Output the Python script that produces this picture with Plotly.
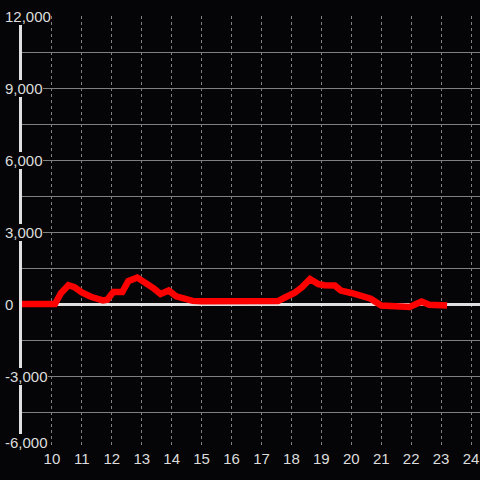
import plotly.graph_objects as go

# Data (hour of day vs value)
hours = [8.85, 10.1, 10.3, 10.55, 10.75, 11.0, 11.3, 11.7, 11.85, 12.05, 12.35, 12.55,
         12.85, 13.05, 13.4, 13.63, 13.9, 14.15, 14.45, 14.7, 15.0, 16.0, 17.0, 17.55,
         17.8, 18.1, 18.35, 18.62, 18.9, 19.1, 19.45, 19.65, 20.0, 20.4, 20.65, 21.0,
         21.5, 21.95, 22.35, 22.6, 23.2]
values = [0, 0, 450, 780, 700, 480, 300, 150, 180, 500, 500, 950,
          1100, 950, 650, 420, 560, 320, 230, 130, 110, 110, 110, 120,
          280, 460, 700, 1040, 830, 780, 770, 560, 460, 350, 220, -60,
          -120, -120, 100, -30, -60]

x_ticks = list(range(10, 25))
x_tick_text = [str(v) for v in x_ticks]
y_grid = [-6000, -4500, -3000, -1500, 0, 1500, 3000, 4500, 6000, 7500, 9000, 10500, 12000]
y_label_vals = [12000, 9000, 6000, 3000, 0, -3000, -6000]
y_label_text = ["12,000", "9,000", "6,000", "3,000", "0", "-3,000", "-6,000"]

BG = "#050507"
TXT = "#dddddd"
GRID = "#808080"
AXIS = "#e0e0e0"
FONT = "Liberation Sans, Arial, sans-serif"

fig = go.Figure()
fig.add_trace(go.Scatter(x=hours, y=values, mode="lines",
                         line=dict(color="#ff0000", width=6.5),
                         hoverinfo="skip", showlegend=False))

L = 22
W = 480 - L
annotations = []
for v, t in zip(y_label_vals, y_label_text):
    annotations.append(dict(
        x=(5 - L) / W, xref="paper", xanchor="left",
        y=v, yref="y", yanchor="middle",
        yshift=6 if v == min(y_label_vals) else 0,
        text=t, showarrow=False, bgcolor=BG, borderpad=0, borderwidth=0,
        font=dict(family=FONT, size=15, color=TXT)))

fig.update_layout(
    width=480, height=480,
    margin=dict(l=L, r=0, t=16, b=32),
    paper_bgcolor=BG, plot_bgcolor=BG,
    font=dict(family=FONT, size=15, color=TXT),
    annotations=annotations,
    xaxis=dict(range=[9, 24.3], tickvals=x_ticks, ticktext=x_tick_text,
               showgrid=True, gridcolor=GRID, gridwidth=1, griddash="3px,3px",
               zeroline=False, showline=False, ticks="",
               tickfont=dict(family=FONT, size=15, color=TXT)),
    yaxis=dict(range=[-6000, 12000], tickvals=y_grid, showticklabels=False,
               showgrid=True, gridcolor=GRID, gridwidth=1,
               zeroline=True, zerolinecolor=AXIS, zerolinewidth=3,
               showline=True, linecolor=AXIS, linewidth=3, ticks=""),
)

fig.write_html("out.html", config={"displayModeBar": False},
               post_script="document.body.style.margin='0';document.body.style.background='%s';" % BG)
